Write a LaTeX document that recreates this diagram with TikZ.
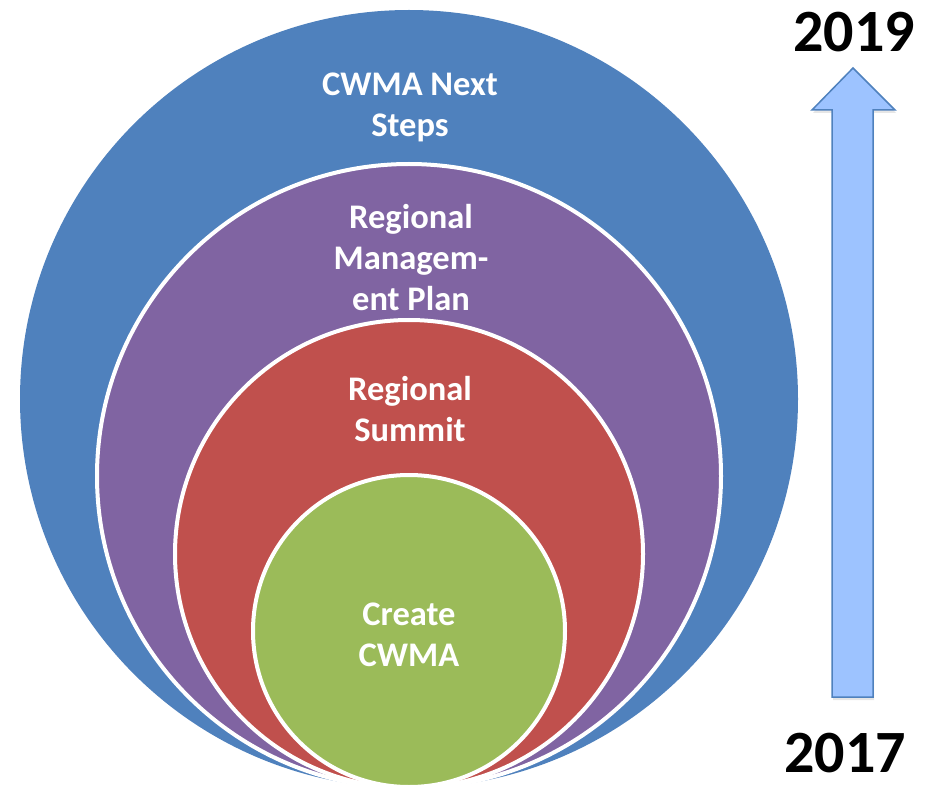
\documentclass[tikz,border=0pt]{standalone}
\usepackage{fontspec}
\setmainfont{Carlito}
\usetikzlibrary{shadows}
\definecolor{ringblue}{HTML}{4F81BD}
\definecolor{ringpurple}{HTML}{8064A2}
\definecolor{ringred}{HTML}{C0504D}
\definecolor{ringgreen}{HTML}{9BBB59}
\definecolor{arrowfill}{HTML}{9DC3FF}
\definecolor{arrowline}{HTML}{4F81BD}
\begin{document}
\begin{tikzpicture}[x=1pt,y=-1pt,
  ring/.style={circle, inner sep=0pt, draw=white, line width=4pt},
  ringlabel/.style={text=white, align=center, font=\fontsize{34.5}{41}\selectfont\bfseries},
  yearlabel/.style={text=black, inner sep=0pt, font=\fontsize{60}{70}\selectfont\bfseries}]
  \useasboundingbox (0,0) rectangle (932,786);
  % nested rings, all touching at the bottom
  \node[ring, fill=ringblue, draw=none, minimum size=778pt] (outer) at (409,399) {};
  \node[ring, fill=ringpurple, minimum size=624pt] (plan) at (409,476) {};
  \node[ring, fill=ringred, minimum size=468pt] (summit) at (409,554) {};
  \node[ring, fill=ringgreen, minimum size=312pt] (create) at (409,631) {};
  % ring captions
  \node[ringlabel] (tnext) at (410,107) {CWMA Next\\Steps};
  \node[ringlabel] (tplan) at (411,258) {Regional\\Managem-\\ent Plan};
  \node[ringlabel] (tsummit) at (410,409) {Regional\\Summit};
  \node[ringlabel] (tcreate) at (409,635) {Create\\CWMA};
  % timeline arrow
  \filldraw[fill=arrowfill, draw=arrowline, line width=1.5pt, line join=miter,
    drop shadow={opacity=0.2, shadow xshift=1pt, shadow yshift=-3pt}]
    (832,697) -- (832,110) -- (812,110) -- (853,68) -- (895,110)
    -- (873,110) -- (873,697) -- cycle;
  \node[yearlabel] (yend) at (854,32) {2019};
  \node[yearlabel] (ystart) at (845,753) {2017};
\end{tikzpicture}
\end{document}
